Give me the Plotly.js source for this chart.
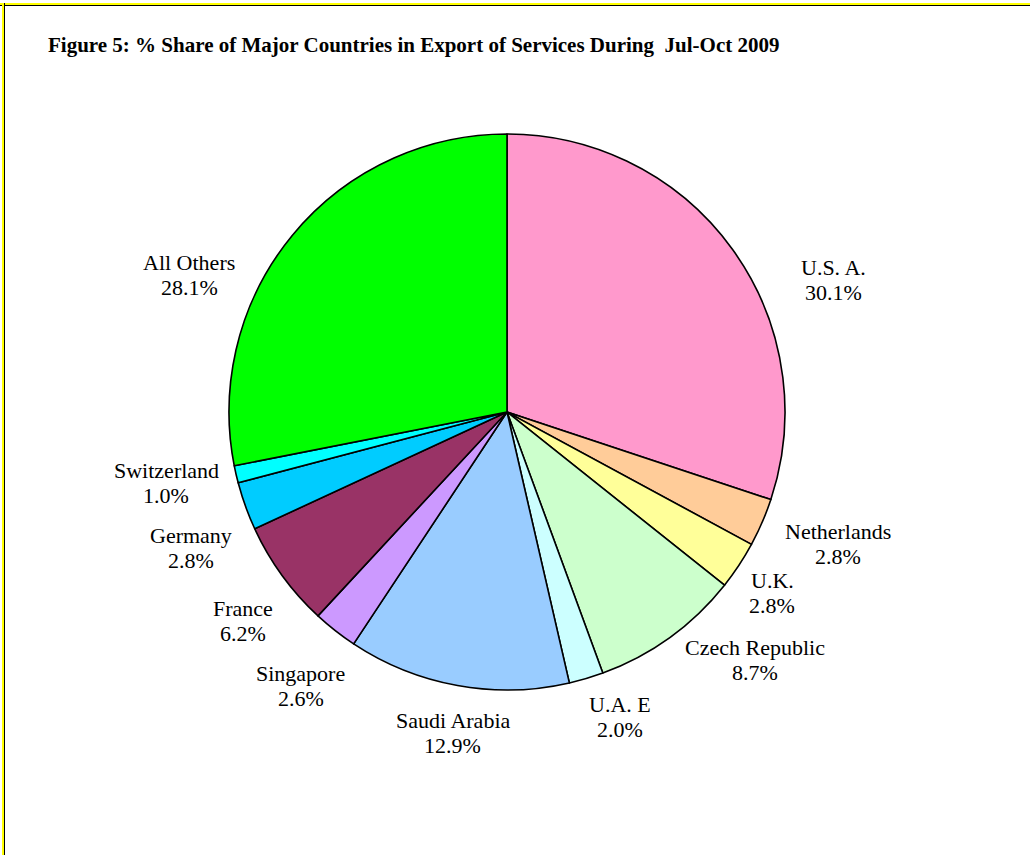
<!DOCTYPE html>
<html><head><meta charset="utf-8">
<script src="https://cdn.plot.ly/plotly-3.0.1.min.js"></script>
<style>
html,body{margin:0;padding:0;background:#fff;}
#wrap{position:absolute;left:0;top:0;width:1030px;height:855px;}
#chart{width:1030px;height:855px;}
#bt{position:absolute;left:0;top:3px;width:1030px;height:2px;background:#ffff00;border-bottom:1px solid #000;}
#bl{position:absolute;left:2px;top:3px;width:2px;height:852px;background:#ffff00;border-right:1px solid #000;}
</style></head>
<body>
<div id="wrap"><div id="chart"></div><div id="bt"></div><div id="bl"></div></div>
<script>
// ---- data ----
var countries = ["U.S. A.", "Netherlands", "U.K.", "Czech Republic", "U.A. E", "Saudi Arabia", "Singapore", "France", "Germany", "Switzerland", "All Others"];
var shares = [30.1, 2.8, 2.8, 8.7, 2.0, 12.9, 2.6, 6.2, 2.8, 1.0, 28.1];
var colors = ["#FF99CC", "#FFCC99", "#FFFF99", "#CCFFCC", "#CCFFFF", "#99CCFF", "#CC99FF", "#993366", "#00CCFF", "#00FFFF", "#00FF00"];

// ---- label placement (layout only: angle nudge in degrees, distance from centre in px) ----
var labelAngleNudge = [13.8, -1.7, 0.8, -9.2, -3.8, -0.7, -1.2, -2.4, -3.5, 1.2, -16.1];
var labelDist = [352, 356, 321, 351, 325, 326, 343, 337, 344, 348, 346];

var W = 1030, H = 855;
var cx = 507, cy = 412, r = 278;
var serif = 'Liberation Serif, Times New Roman, serif';

var trace = {
  type: 'pie',
  labels: countries,
  values: shares,
  sort: false,
  direction: 'clockwise',
  rotation: 0,
  marker: {colors: colors, line: {color: '#000', width: 1.6}},
  textinfo: 'none',
  hoverinfo: 'label+value',
  showlegend: false,
  domain: {x: [(cx - r) / W, (cx + r) / W], y: [(H - cy - r) / H, (H - cy + r) / H]}
};

// labels computed from cumulative shares (mid-angle of each slice)
var total = shares.reduce(function (a, b) { return a + b; }, 0);
var annotations = [];
var cum = 0;
for (var i = 0; i < shares.length; i++) {
  var mid = (cum + shares[i] / 2) / total * 360;
  cum += shares[i];
  var th = (mid + labelAngleNudge[i]) * Math.PI / 180;
  var px = cx + labelDist[i] * Math.sin(th);
  var py = cy - labelDist[i] * Math.cos(th);
  annotations.push({
    xref: 'paper', yref: 'paper', x: px / W, y: 1 - (py - 12.5) / H,
    text: countries[i], showarrow: false, xanchor: 'center', yanchor: 'middle',
    font: {family: serif, size: 22, color: '#000'}
  });
  annotations.push({
    xref: 'paper', yref: 'paper', x: px / W, y: 1 - (py + 12.5) / H,
    text: shares[i].toFixed(1) + '%', showarrow: false, xanchor: 'center', yanchor: 'middle',
    font: {family: serif, size: 22, color: '#000'}
  });
}

var layout = {
  width: W, height: H,
  margin: {l: 0, r: 0, t: 0, b: 0},
  paper_bgcolor: '#fff',
  showlegend: false,
  annotations: annotations,
  title: {
    text: '<b>Figure 5: % Share of Major Countries in Export of Services During  Jul-Oct 2009</b>',
    font: {family: serif, size: 21, color: '#000'},
    x: 48 / W, xanchor: 'left', xref: 'paper',
    y: 1 - 45 / H, yanchor: 'middle', yref: 'container'
  }
};

Plotly.newPlot('chart', [trace], layout, {displayModeBar: false, staticPlot: true});
</script>
</body></html>
